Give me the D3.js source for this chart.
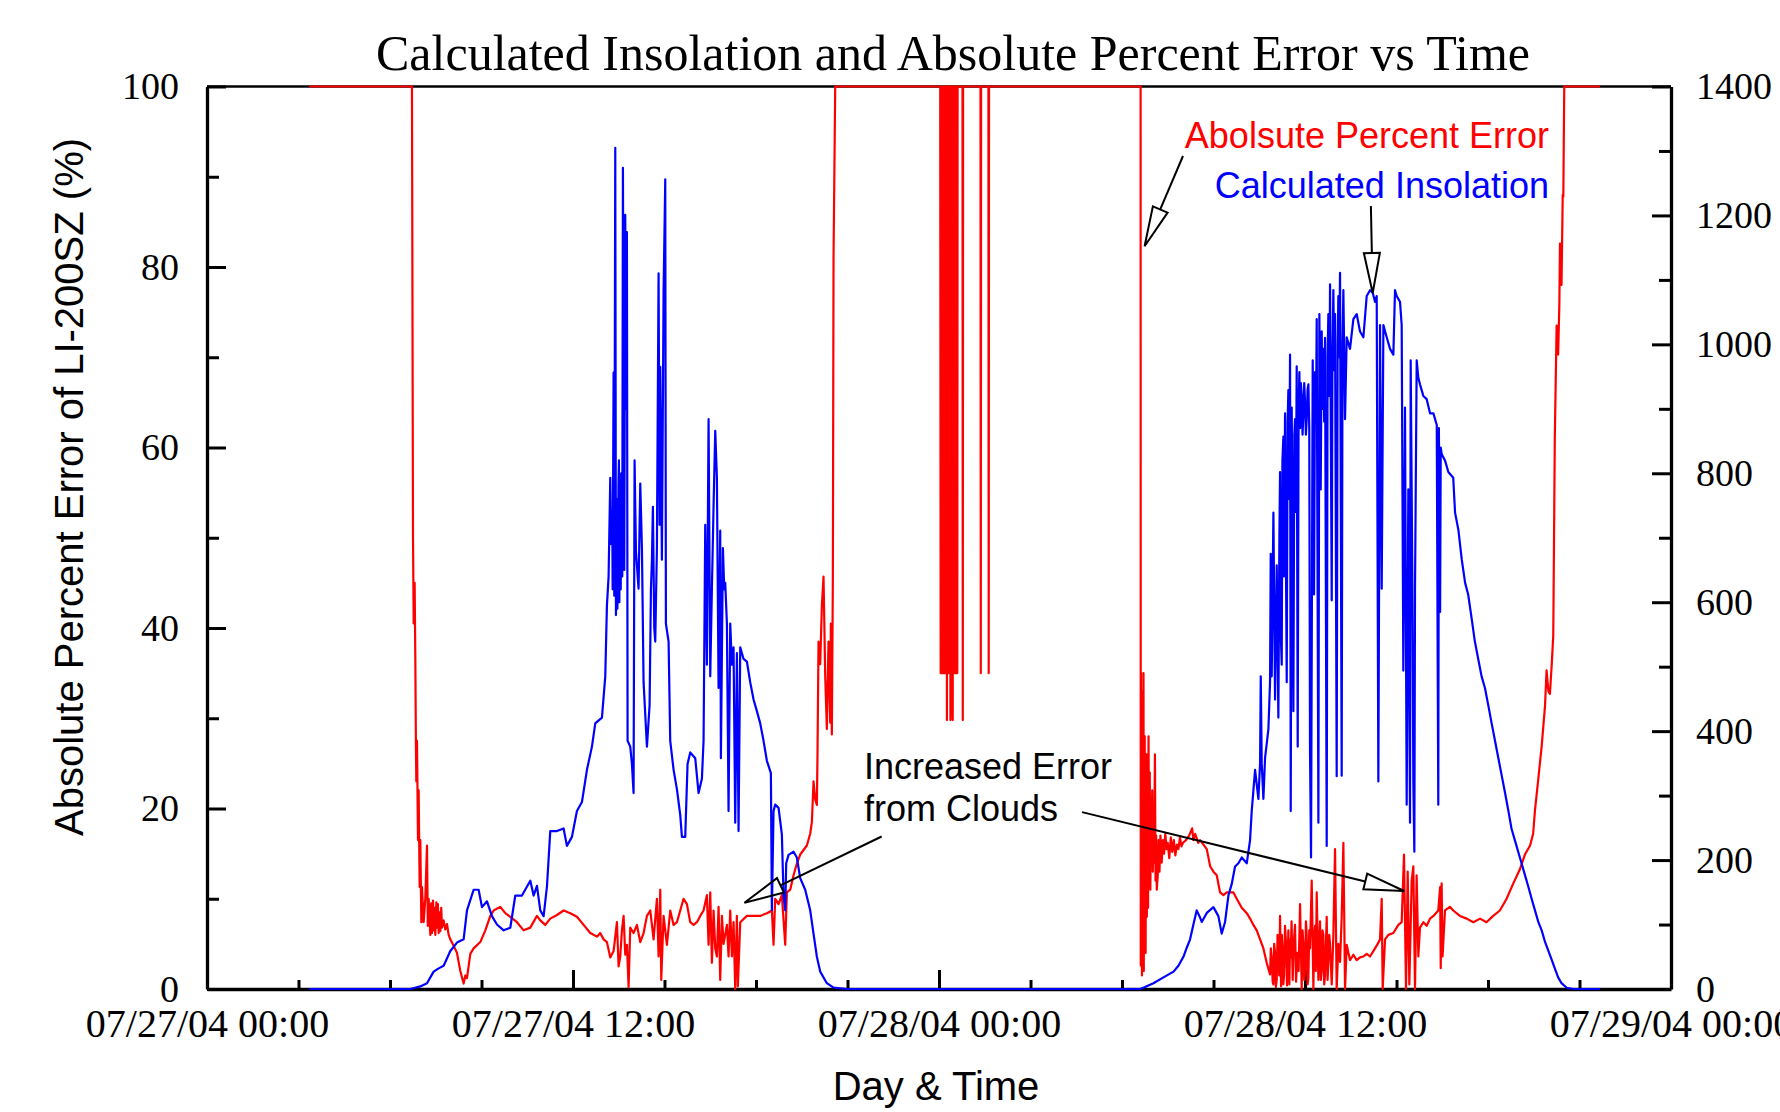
<!DOCTYPE html>
<html>
<head>
<meta charset="utf-8">
<script src="https://cdn.jsdelivr.net/npm/d3@7"></script>
<style>
body { margin: 0; background: #fff; }
</style>
</head>
<body>
<svg id="chart" width="1780" height="1112"></svg>
<script>
// [hours since 07/27/04 00:00, absolute percent error]
const errorDay1 = [
  [3.35,100],[6.72,100],[6.754,50.2],[6.776,40.5],[6.808,45],[6.83,36.6],[6.85,27],[6.863,23],[6.885,27.5],
  [6.918,16.5],[6.94,22],[6.972,11.3],[6.994,16.5],[7.027,7.4],[7.049,11.3],[7.103,7.4],[7.158,10],[7.213,15.9],
  [7.24,7],[7.267,10],[7.322,6],[7.35,9.5],[7.377,6.2],[7.41,9.8],[7.431,6.5],[7.46,9],[7.486,6],[7.52,9.6],
  [7.541,6.8],[7.57,9.4],[7.595,6.2],[7.62,8.5],[7.65,6.4],[7.68,9],[7.704,6.8],[7.759,7.6],[7.814,6.6],
  [7.868,7.2],[7.923,6],[7.978,5.5],[8.087,4.8],[8.196,4],[8.305,2],[8.414,0.6],[8.47,1.5],[8.524,1.2],
  [8.633,3.9],[8.742,4.5],[8.961,5.2],[9.125,6.5],[9.289,8.1],[9.398,8.7],[9.616,9.1],[9.78,8.4],[9.944,8],
  [10.163,7.4],[10.381,6.5],[10.6,6.8],[10.818,8.1],[10.927,7.6],[11.091,7.1],[11.255,7.8],[11.474,8.2],
  [11.692,8.7],[11.911,8.4],[12.129,8],[12.348,7.1],[12.566,6.2],[12.785,5.8],[12.894,6.2],[13.003,5.5],
  [13.112,5.2],[13.222,3.5],[13.331,4.2],[13.44,7.4],[13.495,2.5],[13.549,3.6],[13.604,6.5],[13.659,8.1],
  [13.713,3.8],[13.768,4.9],[13.823,0.2],[13.877,6.8],[13.986,6.2],[14.096,7.1],[14.205,5.2],[14.314,6.2],
  [14.424,8.1],[14.533,8.7],[14.642,5.5],[14.751,10],[14.806,3.6],[14.861,11],[14.893,1],[14.97,8.1],
  [15.079,4.9],[15.188,8.7],[15.298,7.1],[15.407,7.4],[15.516,8.7],[15.625,10],[15.735,9.4],[15.844,7.4],
  [15.953,7.1],[16.063,7.4],[16.172,8.1],[16.281,8.7],[16.39,10.4],[16.445,4.9],[16.5,10.7],[16.554,2.9],
  [16.609,8.7],[16.664,4.5],[16.718,3.6],[16.773,9.1],[16.827,1],[16.882,8.1],[16.937,5],[17.046,7.1],
  [17.1,3.6],[17.155,8.7],[17.21,3.6],[17.264,7.4],[17.319,0],[17.373,8.1],[17.406,0.3],[17.483,7.4],
  [17.701,8.1],[17.92,8.1],[18.138,8.1],[18.357,8.4],[18.521,8.7],[18.575,4.9],[18.63,10],[18.739,9.4],
  [18.848,10.4],[18.958,4.9],[19.012,10.7],[19.122,11],[19.231,12.6],[19.34,13.9],[19.449,14.9],[19.668,15.9],
  [19.777,17.2],[19.832,18.5],[19.886,23],[19.941,21],[19.996,20.4],[20.017,26.2],[20.05,38.5],[20.105,36],
  [20.159,42.4],[20.214,45.7],[20.269,34.7],[20.323,28.8],[20.378,38.5],[20.433,29.5],[20.455,40.5],
  [20.487,28.2],[20.52,45.7],[20.542,81],[20.597,100]
];

const errorNight = [
  [20.8,100],[24.04,100],[24.055,35],[24.07,100],[24.085,35],[24.1,100],[24.115,35],[24.13,100],[24.145,35],
  [24.16,100],[24.175,35],[24.19,100],[24.205,35],[24.22,100],[24.235,35],[24.25,100],[24.26,29.8],[24.275,100],
  [24.29,35],[24.305,100],[24.32,35],[24.335,100],[24.35,35],[24.365,100],[24.375,29.8],[24.39,100],[24.405,35],
  [24.42,100],[24.435,35],[24.45,29.8],[24.465,100],[24.48,35],[24.495,100],[24.51,35],[24.525,100],[24.54,35],
  [24.555,100],[24.57,35],[24.585,100],[24.6,35],[24.61,100],[24.77,100],[24.78,29.8],[24.79,100],[25.36,100],
  [25.37,35],[25.38,100],[25.62,100],[25.63,35],[25.64,100],[30.6,100]
];

const errorDay2 = [
  [30.61,100],[30.615,2.6],[30.625,35],[30.635,8],[30.645,33],[30.655,1.5],[30.665,30],[30.675,4],[30.685,26],
  [30.695,12],[30.705,35],[30.715,2],[30.725,22],[30.735,6],[30.745,28],[30.755,10],[30.765,24],[30.775,4],
  [30.785,20],[30.795,14],[30.805,26],[30.815,8],[30.825,18],[30.835,12],[30.845,22],[30.855,9],[30.87,28],
  [30.89,12],[30.91,24],[30.93,11],[30.95,20],[30.97,14],[30.99,22],[31.01,13],[31.03,18],[31.05,14],[31.08,26],
  [31.1,12],[31.12,17],[31.14,11],[31.17,12.5],[31.2,16.5],[31.23,13],[31.26,17],[31.3,14],[31.34,16.5],
  [31.38,15],[31.42,17.2],[31.46,15.5],[31.5,16.2],[31.55,14.5],[31.6,16.8],[31.65,15.2],[31.7,16.5],
  [31.75,14.8],[31.8,16],[31.85,15.5],[31.9,16.8],[31.95,15.8],[32.0,16.2],[32.1,16.5],[32.2,17],[32.3,17.8],
  [32.34,16.5],[32.4,17.2],[32.5,16.2],[32.56,16.5],[32.78,15.5],[32.89,13.6],[32.997,13],[33.106,12.6],
  [33.216,10.7],[33.325,10.4],[33.434,10.7],[33.652,10.7],[33.762,10],[33.926,9],[34.09,8.4],[34.199,7.8],
  [34.308,7.1],[34.417,6.5],[34.527,5.5],[34.636,4.5],[34.745,2.9],[34.854,1.6],[34.88,4.5],[34.909,3.5],
  [34.94,0.8],[34.964,0.5],[34.99,5],[35.018,4],[35.045,0.2],[35.073,1],[35.1,6],[35.127,5.5],[35.155,1.5],
  [35.182,8.1],[35.215,0.3],[35.24,6],[35.27,4],[35.29,0.5],[35.313,1.5],[35.345,7],[35.379,5],[35.41,0.4],
  [35.455,6.5],[35.488,0.5],[35.51,5.5],[35.532,3.5],[35.56,7.5],[35.597,1],[35.63,5],[35.674,7.1],[35.707,0.8],
  [35.75,4],[35.79,2],[35.838,9.4],[35.892,0],[35.92,6.5],[35.947,5],[35.975,1],[36.001,2],[36.03,7.5],
  [36.056,6],[36.085,0.5],[36.111,1.2],[36.14,6.5],[36.165,4.5],[36.22,12],[36.275,0],[36.3,5.5],[36.329,7],
  [36.355,2],[36.384,10.7],[36.439,1],[36.465,5],[36.493,7.5],[36.52,1],[36.548,2],[36.575,6.5],[36.602,6],
  [36.63,0.5],[36.657,1.5],[36.685,5],[36.712,8],[36.74,1],[36.766,3],[36.795,6],[36.821,5],[36.876,0.5],
  [36.93,6],[36.985,15.5],[37.039,0],[37.094,5],[37.149,3],[37.203,8],[37.258,16.2],[37.313,0],[37.367,4.9],
  [37.476,3.2],[37.586,3.8],[37.695,3.2],[37.804,3.5],[37.914,3.6],[38.023,3.9],[38.132,3.6],[38.241,4.2],
  [38.351,4.8],[38.46,5.5],[38.515,10],[38.547,0],[38.624,5.5],[38.733,6],[38.897,6.2],[39.06,7.1],[39.17,7.4],
  [39.246,14.9],[39.312,0],[39.367,13],[39.421,0.5],[39.498,12],[39.552,13.6],[39.607,0],[39.66,12.6],
  [39.716,3.6],[39.77,6.8],[39.88,7.4],[39.99,7],[40.1,7.8],[40.21,8.1],[40.37,8.7],[40.43,11.3],[40.45,2.3],
  [40.48,11.7],[40.51,3.6],[40.59,8.7],[40.75,9.1],[40.86,8.7],[41.08,8.1],[41.3,7.8],[41.52,7.4],[41.74,7.8],
  [41.95,7.4],[42.17,8.1],[42.39,8.7],[42.61,10],[42.83,11.7],[43.05,13.3],[43.21,14.9],[43.38,15.9],
  [43.48,17.2],[43.54,19.8],[43.65,23.3],[43.76,26.9],[43.87,31.4],[43.92,35.3],[43.98,33],[44.03,32.7],
  [44.09,36],[44.14,39.2],[44.19,61],[44.25,73.5],[44.3,70.3],[44.34,76],[44.36,82.6],[44.41,78],[44.45,88],
  [44.47,87.8],[44.5,100],[45.67,100]
];

// [hours since 07/27/04 00:00, calculated insolation]
const insolDay1 = [
  [3.35,0],[6.666,0],[6.994,4],[7.213,9],[7.431,27],[7.595,32],[7.759,36],[7.978,59],[8.196,72],[8.414,77],
  [8.524,122],[8.742,154],[8.906,154],[9.016,127],[9.179,136],[9.343,113],[9.507,100],[9.726,91],[9.944,95],
  [10.108,145],[10.326,145],[10.6,168],[10.709,145],[10.818,160],[10.927,122],[11.037,113],[11.146,159],
  [11.255,245],[11.474,245],[11.692,249],[11.801,222],[11.965,236],[12.129,276],[12.293,290],[12.457,340],
  [12.621,376],[12.73,412],[12.949,421],[13.058,485],[13.112,594],[13.167,640],[13.222,793],[13.254,690],
  [13.287,740],[13.3,620],[13.331,956],[13.353,610],[13.386,1305],[13.408,580],[13.44,760],[13.455,590],
  [13.473,650],[13.49,780],[13.506,820],[13.52,600],[13.535,790],[13.55,700],[13.565,620],[13.582,800],
  [13.6,770],[13.615,640],[13.637,1274],[13.681,650],[13.713,1201],[13.746,900],[13.768,1174],[13.79,385],
  [13.877,376],[13.932,349],[13.986,304],[14.019,820],[14.063,680],[14.096,657],[14.15,621],[14.205,784],
  [14.26,684],[14.314,476],[14.424,376],[14.511,440],[14.555,620],[14.588,666],[14.62,748],[14.664,560],
  [14.697,539],[14.751,684],[14.806,1110],[14.839,720],[14.861,965],[14.915,666],[14.97,1083],[15.025,1256],
  [15.046,567],[15.134,539],[15.188,385],[15.298,340],[15.407,310],[15.516,270],[15.571,236],[15.68,236],
  [15.756,349],[15.844,367],[16.008,358],[16.117,304],[16.226,326],[16.281,385],[16.336,720],[16.39,503],
  [16.445,884],[16.5,485],[16.554,621],[16.609,750],[16.664,866],[16.718,793],[16.773,467],[16.827,711],
  [16.849,358],[16.915,684],[16.958,620],[16.991,630],[17.046,567],[17.1,276],[17.155,567],[17.21,503],
  [17.264,530],[17.319,258],[17.374,521],[17.428,245],[17.483,530],[17.592,512],[17.701,508],[17.81,476],
  [17.92,449],[18.029,431],[18.138,412],[18.247,385],[18.357,354],[18.488,335],[18.521,122],[18.575,276],
  [18.63,286],[18.739,281],[18.848,240],[18.903,145],[18.958,122],[18.99,195],[19.067,208],[19.231,213],
  [19.34,204],[19.449,172],[19.613,154],[19.777,122],[19.886,86],[19.996,50],[20.105,27],[20.323,9],
  [20.542,2],[20.98,0]
];

const insolDay2 = [
  [30.6,0],[30.7,2],[31.03,9],[31.36,18],[31.69,27],[31.85,36],[32.014,50],[32.123,64],[32.232,77],
  [32.341,100],[32.45,122],[32.54,113],[32.615,104],[32.78,118],[32.997,127],[33.16,113],[33.27,86],
  [33.379,104],[33.489,145],[33.598,163],[33.707,190],[33.816,195],[33.926,204],[34.09,195],[34.199,231],
  [34.253,276],[34.363,340],[34.472,295],[34.527,350],[34.549,485],[34.581,350],[34.636,295],[34.69,358],
  [34.8,403],[34.854,476],[34.876,675],[34.909,485],[34.964,739],[35.018,449],[35.073,657],[35.127,421],
  [35.16,700],[35.182,802],[35.2,560],[35.237,503],[35.26,820],[35.291,857],[35.31,640],[35.346,893],
  [35.37,700],[35.401,476],[35.43,880],[35.455,929],[35.48,760],[35.51,984],[35.532,276],[35.564,902],
  [35.59,720],[35.619,431],[35.65,860],[35.674,884],[35.7,740],[35.728,966],[35.761,376],[35.79,900],
  [35.816,957],[35.84,870],[35.865,940],[35.892,920],[35.92,860],[35.947,893],[35.975,940],[36.001,911],
  [36.03,860],[36.056,884],[36.085,930],[36.111,938],[36.14,870],[36.165,367],[36.198,204],[36.253,975],
  [36.28,780],[36.297,612],[36.329,957],[36.36,880],[36.384,1039],[36.439,258],[36.471,1047],[36.515,775],
  [36.548,1020],[36.575,900],[36.602,993],[36.63,880],[36.657,1010],[36.712,222],[36.74,980],[36.766,1047],
  [36.8,920],[36.821,1093],[36.876,603],[36.9,980],[36.93,1084],[36.96,960],[36.985,1047],[37.039,330],
  [37.07,1000],[37.094,1075],[37.12,980],[37.149,1111],[37.203,331],[37.23,1000],[37.258,1084],[37.313,884],
  [37.367,1011],[37.476,993],[37.586,1039],[37.695,1047],[37.804,1020],[37.914,1011],[38.023,1075],
  [38.132,1084],[38.219,1080],[38.296,1066],[38.351,1075],[38.405,322],[38.46,1030],[38.515,621],[38.57,1030],
  [38.679,1011],[38.788,993],[38.897,984],[38.951,1084],[39.006,1075],[39.115,1066],[39.17,1030],[39.224,494],
  [39.279,902],[39.334,286],[39.388,775],[39.443,258],[39.465,975],[39.52,630],[39.552,322],[39.585,213],
  [39.607,621],[39.662,975],[39.716,948],[39.77,938],[39.88,920],[39.99,915],[40.1,893],[40.21,893],
  [40.32,875],[40.37,286],[40.39,870],[40.43,585],[40.45,840],[40.48,830],[40.59,820],[40.7,802],[40.86,793],
  [40.92,739],[41.03,712],[41.14,666],[41.25,630],[41.35,612],[41.46,576],[41.57,539],[41.68,512],[41.79,485],
  [41.9,467],[42.01,440],[42.12,412],[42.23,385],[42.34,358],[42.45,331],[42.56,304],[42.67,276],[42.77,249],
  [42.88,231],[42.99,213],[43.1,195],[43.21,177],[43.32,159],[43.43,140],[43.54,122],[43.65,104],[43.76,91],
  [43.87,73],[43.98,59],[44.09,45],[44.19,32],[44.3,18],[44.41,9],[44.58,2],[44.8,0],[45.67,0]
];

const majorHours = [0, 12, 24, 36, 48];
const minorHours = [3, 6, 9, 15, 18, 21, 27, 30, 33, 39, 42, 45];
const leftMajor = [0, 20, 40, 60, 80, 100];
const leftMinor = [10, 30, 50, 70, 90];
const rightMajor = [0, 200, 400, 600, 800, 1000, 1200, 1400];
const rightMinor = [100, 300, 500, 700, 900, 1100, 1300];

const serif = "'Liberation Serif', 'Times New Roman', Times, serif";
const sans = "'Liberation Sans', Arial, Helvetica, sans-serif";

const svg = d3.select("#chart");
const plot = {left: 207, right: 1671, top: 86.5, bottom: 989};

const t0 = new Date(2004, 6, 27, 0, 0, 0);
const toDate = h => new Date(t0.getTime() + h * 3600e3);

const x = d3.scaleTime().domain([toDate(0), toDate(48)]).range([plot.left, plot.right]);
const yL = d3.scaleLinear().domain([0, 100]).range([plot.bottom, plot.top]);
const yR = d3.scaleLinear().domain([0, 1400]).range([plot.bottom, plot.top]);
const fmt = d3.timeFormat("%m/%d/%y %H:%M");

function styleAxis(g, size) {
    g.attr("font-family", serif).attr("font-size", size);
    g.select(".domain").attr("stroke", "#000").attr("stroke-width", 3.3);
    g.selectAll(".tick line").attr("stroke", "#000").attr("stroke-width", 3);
    g.selectAll(".tick text").attr("fill", "#000");
}

// bottom axis
svg.append("g")
    .attr("transform", `translate(0,${plot.bottom})`)
    .call(d3.axisBottom(x).tickValues(minorHours.map(toDate)).tickFormat("").tickSizeInner(-9).tickSizeOuter(0))
    .call(g => { styleAxis(g, 40); g.select(".domain").remove(); });
svg.append("g")
    .attr("transform", `translate(0,${plot.bottom})`)
    .call(d3.axisBottom(x).tickValues(majorHours.map(toDate)).tickFormat(fmt)
        .tickSizeInner(-19).tickSizeOuter(0).tickPadding(20))
    .call(g => styleAxis(g, 40));

// left axis
svg.append("g")
    .attr("transform", `translate(${plot.left},0)`)
    .call(d3.axisLeft(yL).tickValues(leftMinor).tickFormat("").tickSizeInner(-12).tickSizeOuter(0))
    .call(g => { styleAxis(g, 38); g.select(".domain").remove(); });
svg.append("g")
    .attr("transform", `translate(${plot.left},0)`)
    .call(d3.axisLeft(yL).tickValues(leftMajor).tickSizeInner(-19).tickSizeOuter(0).tickPadding(28))
    .call(g => styleAxis(g, 38));

// right axis
svg.append("g")
    .attr("transform", `translate(${plot.right},0)`)
    .call(d3.axisRight(yR).tickValues(rightMinor).tickFormat("").tickSizeInner(-12).tickSizeOuter(0))
    .call(g => { styleAxis(g, 38); g.select(".domain").remove(); });
svg.append("g")
    .attr("transform", `translate(${plot.right},0)`)
    .call(d3.axisRight(yR).tickValues(rightMajor).tickFormat(d3.format("d"))
        .tickSizeInner(-19).tickSizeOuter(0).tickPadding(25))
    .call(g => styleAxis(g, 38));

// top frame
svg.append("line")
    .attr("x1", plot.left).attr("x2", plot.right)
    .attr("y1", plot.top).attr("y2", plot.top)
    .attr("stroke", "#000").attr("stroke-width", 2.5);

// data lines
svg.append("clipPath").attr("id", "clip")
    .append("rect")
    .attr("x", plot.left).attr("y", plot.top - 3)
    .attr("width", plot.right - plot.left).attr("height", plot.bottom - plot.top + 6);

const errorData = errorDay1.concat(errorNight, errorDay2);
const insolData = insolDay1.concat([[30.6, 0]], insolDay2);

const errLine = d3.line().x(d => x(toDate(d[0]))).y(d => yL(d[1]));
const insLine = d3.line().x(d => x(toDate(d[0]))).y(d => yR(d[1]));

const lines = svg.append("g").attr("clip-path", "url(#clip)");
lines.append("path")
    .datum(errorData)
    .attr("d", errLine)
    .attr("fill", "none")
    .attr("stroke", "#ff0000")
    .attr("stroke-width", 2.2)
    .attr("stroke-linejoin", "round");
lines.append("path")
    .datum(insolData)
    .attr("d", insLine)
    .attr("fill", "none")
    .attr("stroke", "#0000ff")
    .attr("stroke-width", 2.2)
    .attr("stroke-linejoin", "round");

// titles
svg.append("text")
    .attr("x", 953).attr("y", 70)
    .attr("text-anchor", "middle")
    .attr("font-family", serif).attr("font-size", 50)
    .text("Calculated Insolation and Absolute Percent Error vs Time");

svg.append("text")
    .attr("transform", "translate(83,487) rotate(-90)")
    .attr("text-anchor", "middle")
    .attr("font-family", sans).attr("font-size", 40)
    .text("Absolute Percent Error of LI-200SZ (%)");

svg.append("text")
    .attr("x", 936).attr("y", 1100)
    .attr("text-anchor", "middle")
    .attr("font-family", sans).attr("font-size", 40)
    .text("Day & Time");

// annotations
const notes = svg.append("g").attr("font-family", sans).attr("font-size", 36);
notes.append("text")
    .attr("x", x(toDate(44.0))).attr("y", yL(93.2))
    .attr("text-anchor", "end").attr("fill", "#ff0000")
    .text("Abolsute Percent Error");
notes.append("text")
    .attr("x", x(toDate(44.0))).attr("y", yL(87.6))
    .attr("text-anchor", "end").attr("fill", "#0000ff")
    .text("Calculated Insolation");
notes.append("text")
    .attr("x", x(toDate(21.54))).attr("y", yL(23.3))
    .text("Increased Error");
notes.append("text")
    .attr("x", x(toDate(21.54))).attr("y", yL(18.6))
    .text("from Clouds");

function arrow(x1, y1, x2, y2) {
    const dx = x2 - x1, dy = y2 - y1;
    const len = Math.hypot(dx, dy);
    const ux = dx / len, uy = dy / len;
    const L = 40, w = 8;
    const bx = x2 - ux * L, by = y2 - uy * L;
    notes.append("line")
        .attr("x1", x1).attr("y1", y1).attr("x2", bx).attr("y2", by)
        .attr("stroke", "#000").attr("stroke-width", 2);
    notes.append("path")
        .attr("d", `M${x2},${y2}L${bx - uy * w},${by + ux * w}L${bx + uy * w},${by - ux * w}Z`)
        .attr("fill", "none").attr("stroke", "#000").attr("stroke-width", 2);
}

arrow(x(toDate(32.0)), yL(92.3), x(toDate(30.74)), yL(82.3));
arrow(x(toDate(38.16)), yR(1214.7), x(toDate(38.22)), yR(1079.7));
arrow(x(toDate(22.12)), yL(16.9), x(toDate(17.62)), yL(9.56));
arrow(x(toDate(28.69)), yL(19.6), x(toDate(39.25)), yL(10.86));
</script>
</body>
</html>
